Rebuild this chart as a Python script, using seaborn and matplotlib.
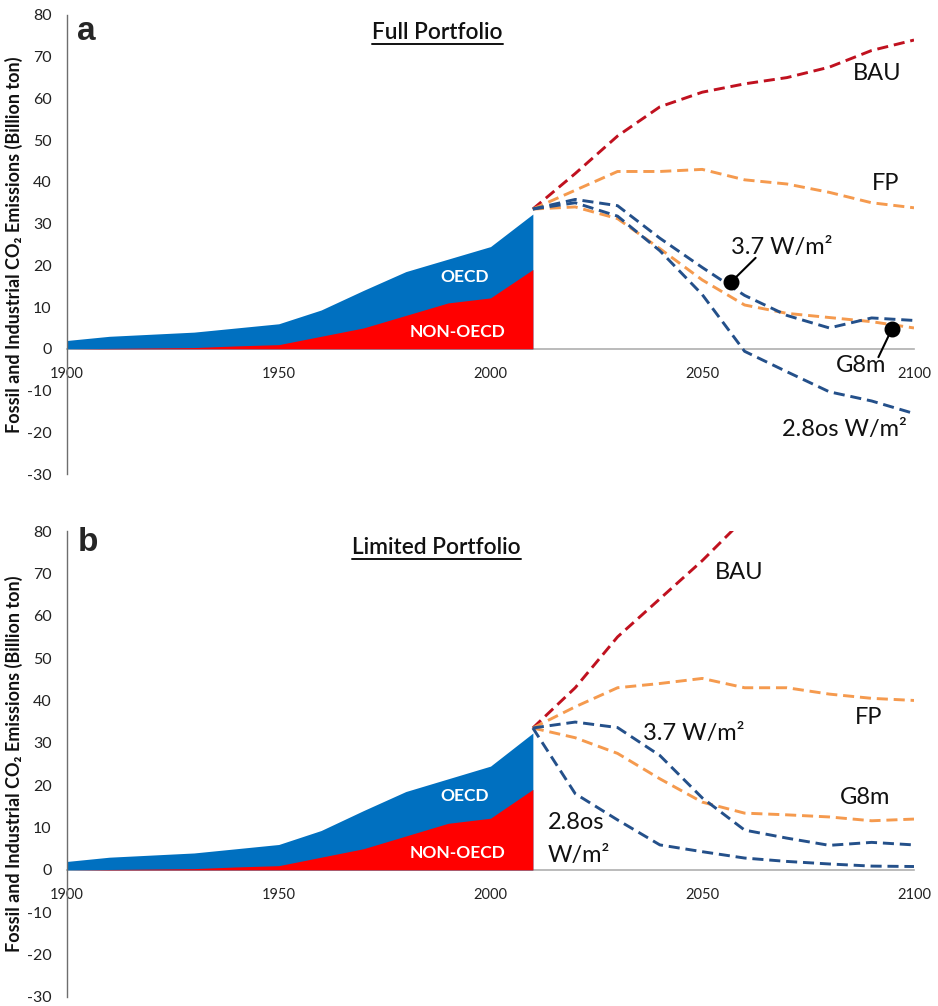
import numpy as np
import pandas as pd
import matplotlib
matplotlib.use("Agg")
import matplotlib.pyplot as plt
import seaborn as sns
from matplotlib.lines import Line2D

# ---------------- data ----------------
hist_years = [1900, 1910, 1920, 1930, 1940, 1950, 1960, 1970, 1980, 1990, 2000, 2010]
non_oecd = [0.0, 0.1, 0.2, 0.3, 0.7, 1.0, 3.0, 5.0, 8.0, 11.0, 12.2, 19.0]
total_hist = [2.0, 3.0, 3.5, 4.0, 5.0, 6.0, 9.3, 14.0, 18.5, 21.5, 24.5, 32.3]

proj_years = [2010, 2020, 2030, 2040, 2050, 2060, 2070, 2080, 2090, 2100]

# Panel a: Full Portfolio
a_bau = [33.5, 42.0, 51.0, 58.0, 61.5, 63.5, 65.0, 67.5, 71.5, 74.0]
a_fp = [33.5, 38.0, 42.5, 42.5, 43.0, 40.5, 39.5, 37.5, 35.0, 33.8]
a_g8m = [33.5, 34.0, 31.2, 24.0, 16.5, 10.5, 8.5, 7.5, 6.5, 5.0]
a_37 = [33.5, 35.8, 34.3, 26.5, 19.5, 12.8, 8.0, 5.0, 7.4, 6.8]
a_28 = [33.5, 35.0, 31.8, 23.5, 13.0, -0.6, -5.5, -10.3, -12.5, -15.5]

# Panel b: Limited Portfolio
b_bau_years = [2010, 2020, 2030, 2040, 2050, 2060]
b_bau = [33.5, 43.0, 55.0, 64.0, 73.0, 83.0]
b_fp = [33.5, 38.5, 43.0, 44.0, 45.2, 43.0, 43.0, 41.5, 40.5, 40.0]
b_g8m = [33.5, 31.2, 27.5, 21.5, 16.0, 13.4, 13.0, 12.5, 11.6, 12.0]
b_37 = [33.5, 34.9, 33.6, 27.0, 17.0, 9.4, 7.5, 5.8, 6.5, 5.9]
b_28 = [33.5, 18.0, 11.8, 5.9, 4.3, 2.8, 2.0, 1.4, 0.9, 0.8]

y_ticks = [-30, -20, -10, 0, 10, 20, 30, 40, 50, 60, 70, 80]
x_ticks = [1900, 1950, 2000, 2050, 2100]

# ---------------- style ----------------
sns.set_style("white")
FONT = ["Lato", "DejaVu Sans"]
plt.rcParams["font.family"] = FONT

C_BAU = "#C0111F"
C_OR = "#F59A4E"
C_BL = "#24508A"
C_OECD = "#0070C0"
C_NON = "#FF0000"

fig = plt.figure(figsize=(9.38, 10.06), dpi=100)
ax_a = fig.add_axes([67 / 938, 1 - 474 / 1006, (914 - 67) / 938, (474 - 15) / 1006])
ax_b = fig.add_axes([67 / 938, 1 - 997 / 1006, (914 - 67) / 938, (997 - 531) / 1006])

DASH = (3.8, 2.0)
LW = 2.1


def dline(ax, x, y, color):
    df = pd.DataFrame({"x": x, "y": y})
    sns.lineplot(data=df, x="x", y="y", ax=ax, color=color, linewidth=LW,
                 dashes=False, sort=False, legend=False)
    ax.lines[-1].set_dashes(DASH)
    ax.lines[-1].set_dash_capstyle("butt")


def base(ax):
    ax.fill_between(hist_years, 0, total_hist, color=C_OECD, linewidth=0, zorder=1)
    ax.fill_between(hist_years, 0, non_oecd, color=C_NON, linewidth=0, zorder=2)


def finish(ax):
    ax.set_xlim(1900, 2100)
    ax.set_ylim(-30, 80)
    ax.set_yticks(y_ticks)
    ax.set_xticks(x_ticks)
    ax.set_xticklabels([str(t) for t in x_ticks])
    ax.set_yticklabels([str(t) for t in y_ticks])
    for s in ["top", "right"]:
        ax.spines[s].set_visible(False)
    ax.spines["bottom"].set_position(("data", 0))
    ax.spines["bottom"].set_color("#AFAFAF")
    ax.spines["bottom"].set_linewidth(1.2)
    ax.spines["left"].set_color("#6E6E6E")
    ax.spines["left"].set_linewidth(1.0)
    ax.spines["bottom"].set_zorder(0.5)
    ax.tick_params(axis="x", direction="out", length=5, width=1.0, color="#AFAFAF",
                   pad=8, labelsize=10.5, labelcolor="#222222")
    ax.tick_params(axis="y", direction="out", length=5, width=1.0, color="#6E6E6E",
                   pad=6, labelsize=11.5, labelcolor="#222222")
    ax.set_xlabel("")
    ax.set_ylabel("Fossil and Industrial CO₂ Emissions (Billion ton)",
                  fontsize=13, fontweight="bold", color="#111111", labelpad=3,
                  family=FONT)
    ax.patch.set_alpha(0)


base(ax_a)
base(ax_b)

# panel a lines
dline(ax_a, proj_years, a_bau, C_BAU)
dline(ax_a, proj_years, a_fp, C_OR)
dline(ax_a, proj_years, a_g8m, C_OR)
dline(ax_a, proj_years, a_37, C_BL)
dline(ax_a, proj_years, a_28, C_BL)

# panel b lines
dline(ax_b, b_bau_years, b_bau, C_BAU)
dline(ax_b, proj_years, b_fp, C_OR)
dline(ax_b, proj_years, b_g8m, C_OR)
dline(ax_b, proj_years, b_37, C_BL)
dline(ax_b, proj_years, b_28, C_BL)

finish(ax_a)
finish(ax_b)

LBL = dict(fontsize=17, color="#111111", ha="center", va="center", family=FONT)

# panel a labels
ax_a.text(1904.6, 76.0, "a", fontsize=24, fontweight="bold", ha="center", va="center",
          family=["Liberation Sans", "DejaVu Sans"])
t_a = ax_a.text(1987.5, 75.8, "Full Portfolio", fontsize=16.3, fontweight="semibold",
                ha="center", va="center", color="#111111", family=FONT)
ax_a.text(1993.9, 17.3, "OECD", fontsize=12.5, fontweight="bold", color="white",
          ha="center", va="center", family=FONT)
ax_a.text(1992.2, 4.1, "NON-OECD", fontsize=12.5, fontweight="bold", color="white",
          ha="center", va="center", family=FONT)
ax_a.text(2091.3, 66.1, "BAU", **LBL)
ax_a.text(2093.2, 39.5, "FP", **LBL)
ax_a.text(2068.8, 24.4, "3.7 W/m²", **LBL)
ax_a.text(2087.6, -3.9, "G8m", **LBL)
ax_a.text(2083.5, -19.4, "2.8os W/m²", **LBL)
ax_a.annotate("", xy=(2056.8, 16.0), xytext=(2062.6, 21.8),
              arrowprops=dict(arrowstyle="-", color="black", lw=1.5, shrinkA=0, shrinkB=0))
ax_a.annotate("", xy=(2094.8, 4.8), xytext=(2091.6, -2.0),
              arrowprops=dict(arrowstyle="-", color="black", lw=1.5, shrinkA=0, shrinkB=0))
ax_a.scatter([2056.8, 2094.8], [16.0, 4.8], s=110, color="black", zorder=5)

# panel b labels
ax_b.text(1905.0, 77.2, "b", fontsize=24, fontweight="bold", ha="center", va="center",
          family=["Liberation Sans", "DejaVu Sans"])
t_b = ax_b.text(1987.3, 76.0, "Limited Portfolio", fontsize=16.3, fontweight="semibold",
                ha="center", va="center", color="#111111", family=FONT)
ax_b.text(1993.9, 17.5, "OECD", fontsize=12.5, fontweight="bold", color="white",
          ha="center", va="center", family=FONT)
ax_b.text(1992.2, 4.0, "NON-OECD", fontsize=12.5, fontweight="bold", color="white",
          ha="center", va="center", family=FONT)
ax_b.text(2058.7, 70.1, "BAU", **LBL)
ax_b.text(2089.4, 36.0, "FP", **LBL)
ax_b.text(2048.1, 32.2, "3.7 W/m²", **LBL)
ax_b.text(2088.4, 17.0, "G8m", **LBL)
ax_b.text(2013.5, 11.1, "2.8os", fontsize=17, color="#111111", ha="left", va="center", family=FONT)
ax_b.text(2013.5, 3.3, "W/m²", fontsize=17, color="#111111", ha="left", va="center", family=FONT)

# underline titles
fig.canvas.draw()
r = fig.canvas.get_renderer()
for t in (t_a, t_b):
    bb = t.get_window_extent(renderer=r)
    y = bb.y0 - 1
    fig.add_artist(Line2D([bb.x0 / fig.bbox.width, bb.x1 / fig.bbox.width],
                          [y / fig.bbox.height, y / fig.bbox.height],
                          color="#111111", lw=1.4, transform=fig.transFigure))

fig.savefig("out.png", dpi=100)
